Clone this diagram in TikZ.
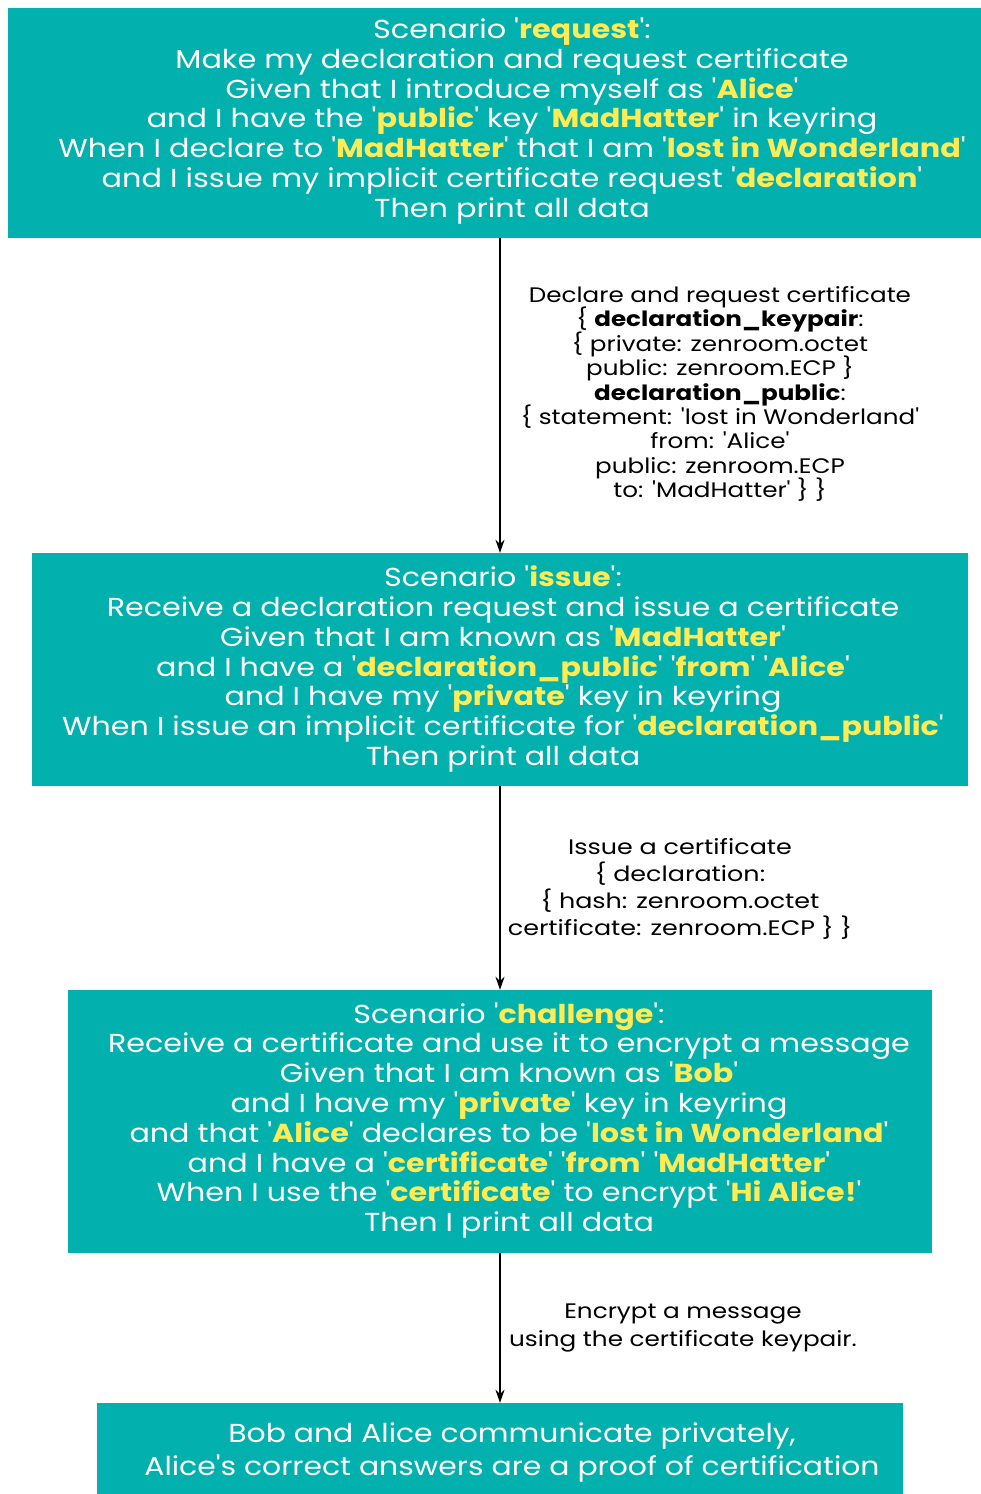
\documentclass[tikz,border=0pt]{standalone}
\usepackage{fontspec}
\usepackage{graphicx}
\setmainfont{Poppins}[Ligatures=TeXOff]
\usetikzlibrary{arrows.meta}
\definecolor{boxteal}{RGB}{2,177,173}
\definecolor{hlyellow}{RGB}{255,236,84}
\newcommand{\hl}[1]{\textbf{\color{hlyellow}#1}}
\newcommand{\wtext}[2]{\scalebox{#1}[1]{\parbox{860pt}{\centering\lineskiplimit=-100pt #2}}}
\tikzset{
  box/.style={fill=boxteal, draw=none, inner sep=0pt},
  boxtext/.style={text=white, inner sep=0pt, font=\fontsize{26}{29.8}\selectfont},
  lbl/.style={text=black, inner sep=0pt},
  arr/.style={draw=black, line width=1.6pt, -{Stealth[length=13pt,width=9pt]}}
}
\begin{document}
\begin{tikzpicture}[x=1pt,y=-1pt]
\useasboundingbox (0,0) rectangle (980,1494);
\node[box, minimum width=1004pt, minimum height=230pt] (b1) at (510,123) {};
\node[box, minimum width=936pt, minimum height=233pt] (b2) at (500,669.5) {};
\node[box, minimum width=864pt, minimum height=263pt] (b3) at (500,1121.5) {};
\node[box, minimum width=806pt, minimum height=107pt] (b4) at (500,1456.5) {};

\node[boxtext] (t1) at (512,121) {\wtext{1.165}{Scenario '\hl{request}':\\
Make my declaration and request certificate\\
Given that I introduce myself as '\hl{Alice}'\\
and I have the '\hl{public}' key '\hl{MadHatter}' in keyring\\
When I declare to '\hl{MadHatter}' that I am '\hl{lost in Wonderland}'\\
and I issue my implicit certificate request '\hl{declaration}'\\
Then print all data}};

\node[boxtext] (t2) at (503,669) {\wtext{1.16}{Scenario '\hl{issue}':\\
Receive a declaration request and issue a certificate\\
Given that I am known as '\hl{MadHatter}'\\
and I have a '\hl{declaration\_public}' '\hl{from}' '\hl{Alice}'\\
and I have my '\hl{private}' key in keyring\\
When I issue an implicit certificate for '\hl{declaration\_public}'\\
Then print all data}};

\node[boxtext] (t3) at (509,1120.5) {\wtext{1.16}{Scenario '\hl{challenge}':\\
Receive a certificate and use it to encrypt a message\\
Given that I am known as '\hl{Bob}'\\
and I have my '\hl{private}' key in keyring\\
and that '\hl{Alice}' declares to be '\hl{lost in Wonderland}'\\
and I have a '\hl{certificate}' '\hl{from}' '\hl{MadHatter}'\\
When I use the '\hl{certificate}' to encrypt '\hl{Hi Alice!}'\\
Then I print all data}};

\node[boxtext, font=\fontsize{26}{33}\selectfont] (t4) at (512,1452) {\wtext{1.148}{Bob and Alice communicate privately,\\
Alice's correct answers are a proof of certification}};

\draw[arr] (b1.south -| b2.north) -- (b2.north);
\draw[arr] (b2.south) -- (b3.north);
\draw[arr] (b3.south) -- (b4.north);

\node[lbl, font=\fontsize{21}{24.4}\selectfont] (l1) at (720,394) {\wtext{1.173}{Declare and request certificate\\
\{ \textbf{declaration\_keypair}:\\
\{ private: zenroom.octet\\
public: zenroom.ECP \}\\
\textbf{declaration\_public}:\\
\{ statement: 'lost in Wonderland'\\
from: 'Alice'\\
public: zenroom.ECP\\
to: 'MadHatter' \} \}}};

\node[lbl, font=\fontsize{21}{27}\selectfont] (l2) at (680,889) {\wtext{1.21}{Issue a certificate\\
\{ declaration:\\
\{ hash: zenroom.octet\\
certificate: zenroom.ECP \} \}}};

\node[lbl, font=\fontsize{21}{28}\selectfont] (l3) at (683,1328) {\wtext{1.176}{Encrypt a message\\
using the certificate keypair.}};
\end{tikzpicture}
\end{document}
